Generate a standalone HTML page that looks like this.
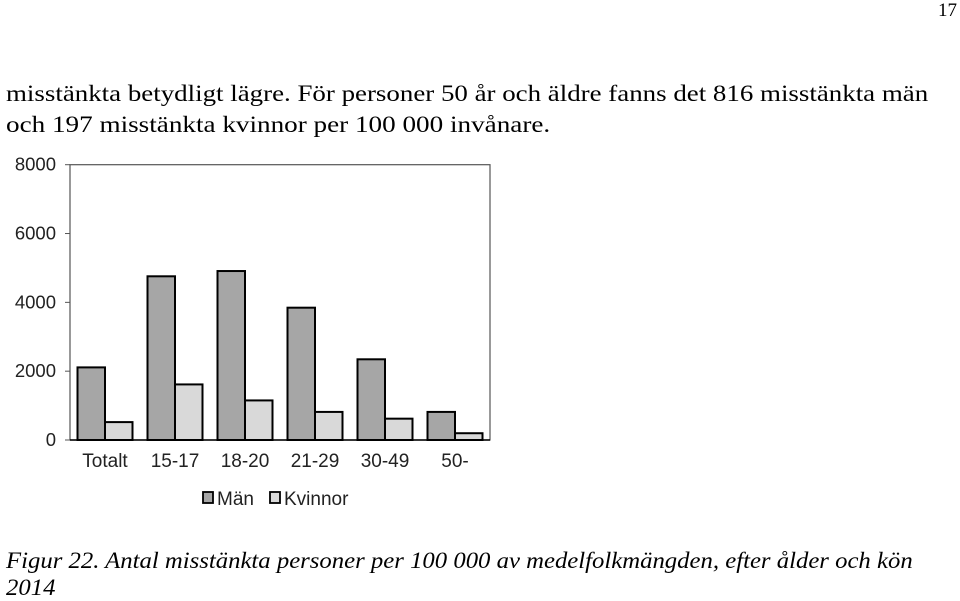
<!DOCTYPE html>
<html><head><meta charset="utf-8"><style>
body{margin:0;width:960px;height:601px;background:#fff;position:relative;overflow:hidden;font-family:"Liberation Serif",serif;color:#000}
.t{position:absolute;white-space:nowrap;font-size:23px;margin:0;transform-origin:0 0}
</style></head><body>
<div class="t" style="left:938px;top:0px;font-size:19px">17</div>
<div class="t" style="left:6px;top:81px;transform:scaleX(1.17)">misstänkta betydligt lägre. För personer 50 år och äldre fanns det 816 misstänkta män</div>
<div class="t" style="left:6px;top:112px;transform:scaleX(1.18)">och 197 misstänkta kvinnor per 100 000 invånare.</div>
<svg id="chart" width="960" height="601" style="position:absolute;left:0;top:0" font-family="Liberation Sans, sans-serif"></svg>
<div class="t" style="left:6px;top:548px;font-style:italic;transform:scaleX(1.075)">Figur 22. Antal misstänkta personer per 100 000 av medelfolkmängden, efter ålder och kön</div>
<div class="t" style="left:6px;top:575px;font-style:italic;transform:scaleX(1.075)">2014</div>
<script>
const categories=["Totalt","15-17","18-20","21-29","30-49","50-"];
const man=[2110,4757,4910,3845,2345,816];
const kvinnor=[520,1615,1150,816,620,197];
const yTicks=[0,2000,4000,6000,8000];
const svg=document.getElementById('chart');const NS='http://www.w3.org/2000/svg';
const X0=70,X1=490,Y0=440,Y1=164.7,YMAX=8000;
const y=v=>Y0-(v/YMAX)*(Y0-Y1);
const gw=(X1-X0)/categories.length;
const xc=i=>X0+gw*(i+0.5);
function mk(t,a){const e=document.createElementNS(NS,t);for(const k in a)e.setAttribute(k,a[k]);svg.appendChild(e);return e;}
let r=mk('rect',{x:X0,y:Y1,width:X1-X0,height:Y0-Y1,fill:'none',stroke:'#555','stroke-width':1.2});


yTicks.forEach(v=>{
 const t=mk('text',{x:56,y:y(v)+6,'text-anchor':'end','font-size':18.5,fill:'#222'});t.textContent=v;
 
 
 const l=mk('line',{x1:X0-5,x2:X0,y1:y(v),y2:y(v),stroke:'#555'});
 
 
});
const bw=27.5;
categories.forEach((c,i)=>{
 const b1=mk('rect',{x:xc(i)-bw,y:y(man[i]),width:bw,height:Y0-y(man[i]),fill:'#a6a6a6',stroke:'#000','stroke-width':2});
 
 
 const b2=mk('rect',{x:xc(i),y:y(kvinnor[i]),width:bw,height:Y0-y(kvinnor[i]),fill:'#d9d9d9',stroke:'#000','stroke-width':2});
 
 
 const t=mk('text',{x:xc(i),y:467,'text-anchor':'middle','font-size':19,fill:'#222'});t.textContent=c;
 
 
});
mk('line',{x1:X0,x2:X1,y1:Y0,y2:Y0,stroke:'#000','stroke-width':1.5});
const lg=[['Män','#a6a6a6',203],['Kvinnor','#d9d9d9',270]];
lg.forEach(([n,f,x])=>{
 const s=mk('rect',{x:x,y:492,width:10,height:11,fill:f,stroke:'#000','stroke-width':1.8});
 
 
 const t=mk('text',{x:x+14,y:505,'font-size':19,fill:'#222'});t.textContent=n;
 
 
});
</script>
</body></html>
